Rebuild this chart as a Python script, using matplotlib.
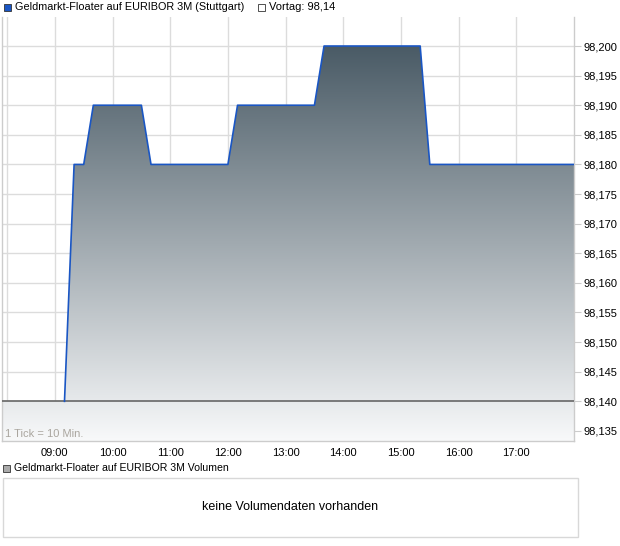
import numpy as np
import matplotlib.pyplot as plt
from matplotlib.colors import LinearSegmentedColormap
from matplotlib.patches import Rectangle, Polygon

plt.rcParams['font.family'] = ['Liberation Sans', 'DejaVu Sans']

# intraday prices (10-minute ticks)
times = ["09:10", "09:20", "09:30", "09:40", "10:30", "10:40", "12:00",
         "12:10", "13:30", "13:40", "15:20", "15:30", "18:00"]
prices = [98.14, 98.18, 98.18, 98.19, 98.19, 98.18, 98.18,
          98.19, 98.19, 98.20, 98.20, 98.18, 98.18]
prev_close = 98.14
title = "Geldmarkt-Floater auf EURIBOR 3M (Stuttgart)"
vol_title = "Geldmarkt-Floater auf EURIBOR 3M Volumen"
hour_labels = ["09:00", "10:00", "11:00", "12:00", "13:00", "14:00", "15:00", "16:00", "17:00"]
ytick_vals = [98.135 + 0.005 * i for i in range(14)]

def to_h(s):
    h, m = s.split(":")
    return int(h) + int(m) / 60

x = np.array([to_h(t) for t in times])
y = np.array(prices)

W, H = 620, 546
fig = plt.figure(figsize=(W / 100, H / 100), dpi=100)

x0, x1 = 8 + 5 / 60, 18.0
y0, y1 = 98.1333, 98.2049
ax = fig.add_axes([2 / W, 1 - 441 / H, (574 - 2) / W, (441 - 17) / H])
ax.set_xlim(x0, x1)
ax.set_ylim(y0, y1)

# grid
for v in ytick_vals:
    ax.axhline(v, color='#dcdcdc', lw=1, zorder=0)
for lab in hour_labels:
    ax.axvline(to_h(lab), color='#dcdcdc', lw=1, zorder=0)
ax.axvline(8 + 10 / 60, color='#dcdcdc', lw=1, zorder=0)

# gradient fill under the curve (and below the previous close)
cmap = LinearSegmentedColormap.from_list('g', ['#f8f9fa', '#4a5b66'])
grad = np.linspace(0, 1, 256).reshape(-1, 1)
img = ax.imshow(grad, cmap=cmap, origin='lower', aspect='auto',
                extent=[x0, x1, y0, y.max()], zorder=1)
verts = [(x0, prev_close), (x[0], prev_close)] + list(zip(x, y)) + \
        [(x[-1], y0), (x0, y0)]
poly = Polygon(verts, closed=True, facecolor='none', edgecolor='none')
ax.add_patch(poly)
img.set_clip_path(poly)
ax.set_ylim(y0, y1)

ax.axhline(prev_close, color='#666666', lw=1.2, zorder=3)
ax.plot(x, y, color='#1a56c4', lw=1.2, zorder=4)

ax.text(x0 + 0.05, y0 + 0.0003, "1 Tick = 10 Min.", fontsize=8,
        color='#aaa69f', va='bottom', ha='left', zorder=5)

ax.yaxis.tick_right()
ax.set_yticks(ytick_vals)
ax.set_yticklabels([f"{v:.3f}".replace('.', ',') for v in ytick_vals])
ax.set_xticks([to_h(l) for l in hour_labels])
ax.set_xticklabels(hour_labels)
ax.tick_params(axis='y', labelsize=8, length=5, color='#cccccc', pad=2, labelcolor='#000000')
ax.tick_params(axis='x', labelsize=8, length=0, pad=5)
for s in ax.spines.values():
    s.set_color('#cccccc')
    s.set_linewidth(1)
ax.spines['top'].set_visible(False)

# header legend
fig.patches.append(Rectangle((4 / W, 1 - 10.5 / H), 7 / W, 7 / H, transform=fig.transFigure,
                             facecolor='#1a56c4', edgecolor='#333333', lw=0.6))
fig.text(15 / W, 1 - 7.5 / H, title, fontsize=7.8, va='center', ha='left')
fig.patches.append(Rectangle((258 / W, 1 - 10.5 / H), 7 / W, 7 / H, transform=fig.transFigure,
                             facecolor='white', edgecolor='#333333', lw=0.6))
fig.text(269 / W, 1 - 7.5 / H, "Vortag: " + f"{prev_close:.2f}".replace('.', ','),
         fontsize=8, va='center', ha='left')

# volume panel
fig.patches.append(Rectangle((3 / W, 1 - 471.5 / H), 7 / W, 7 / H, transform=fig.transFigure,
                             facecolor='#aaaaaa', edgecolor='#333333', lw=0.6))
fig.text(14 / W, 1 - 468 / H, vol_title, fontsize=7.6, va='center', ha='left')
fig.patches.append(Rectangle((3 / W, 1 - 537 / H), 575 / W, 59 / H, transform=fig.transFigure,
                             facecolor='white', edgecolor='#d8d8d8', lw=1))
fig.text(290 / W, 1 - 507 / H, "keine Volumendaten vorhanden", fontsize=9,
         va='center', ha='center')

fig.savefig('out.png', dpi=100)
